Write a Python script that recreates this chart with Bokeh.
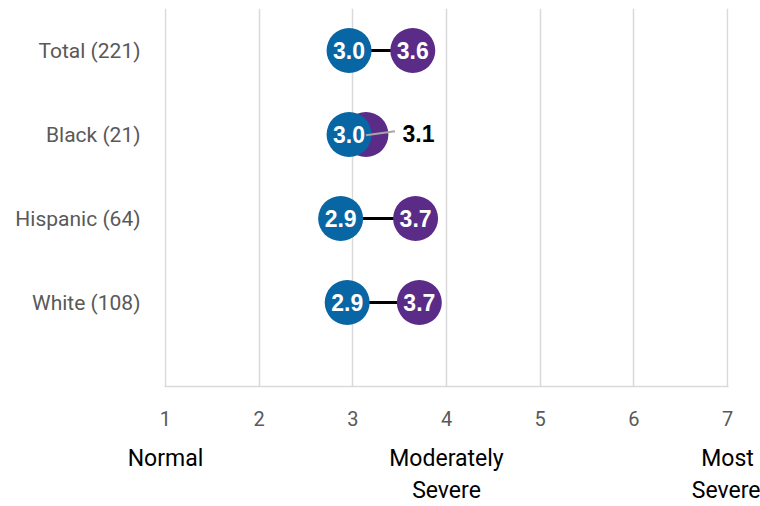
from bokeh.plotting import figure
from bokeh.models import ColumnDataSource, FixedTicker, Range1d, LinearAxis
from bokeh.core.properties import value
from bokeh.embed import file_html
from bokeh.resources import INLINE

# Mean severity scores (1 = Normal ... 7 = Most Severe), before and after
groups = ["Total (221)", "Black (21)", "Hispanic (64)", "White (108)"]
before = [2.96, 2.96, 2.87, 2.94]
after = [3.64, 3.14, 3.67, 3.71]

scale_ticks = [1, 2, 3, 4, 5, 6, 7]
anchor_values = [1, 4, 7]
anchor_line1 = ["Normal", "Moderately", "Most"]
anchor_line2 = ["", "Severe", "Severe"]

BLUE = "#0866A4"
PURPLE = "#5B2C87"
GRID = "#D9D9D9"
TEXT_GRAY = "#595959"
LABEL_FONT = "Roboto"
DOT_FONT = "Liberation Sans"
DOT_SIZE = 45

rows = list(range(len(groups), 0, -1))  # first group at the top

p = figure(width=760, height=506, output_backend="svg", toolbar_location=None,
           x_range=Range1d(0.99, 7.01), y_range=Range1d(0, len(groups) + 0.5),
           min_border_left=164, min_border_right=32,
           min_border_top=8, min_border_bottom=120)
p.outline_line_color = None
p.background_fill_color = "white"
p.border_fill_color = "white"

# x axis: scale points 1..7
p.xaxis.ticker = FixedTicker(ticks=scale_ticks)
p.xaxis.axis_line_color = GRID
p.xaxis.axis_line_width = 1.5
p.xaxis.major_tick_line_color = None
p.xaxis.minor_tick_line_color = None
p.xaxis.major_tick_out = 0
p.xaxis.major_label_standoff = 24
p.xaxis.major_label_text_font = LABEL_FONT
p.xaxis.major_label_text_font_size = "20px"
p.xaxis.major_label_text_color = TEXT_GRAY

# descriptive anchors under the scale, one axis per text line
for labels, standoff in ((anchor_line1, 16), (anchor_line2, 2)):
    ax = LinearAxis(ticker=FixedTicker(ticks=anchor_values),
                    major_label_overrides={v: t for v, t in zip(anchor_values, labels)},
                    axis_line_color=None, major_tick_line_color=None,
                    minor_tick_line_color=None, major_tick_out=0,
                    major_label_standoff=standoff,
                    major_label_text_font=LABEL_FONT,
                    major_label_text_font_size="23px",
                    major_label_text_color="black")
    p.add_layout(ax, "below")

# y axis: group names
p.yaxis.ticker = FixedTicker(ticks=rows)
p.yaxis.major_label_overrides = {r: g for r, g in zip(rows, groups)}
p.yaxis.axis_line_color = None
p.yaxis.major_tick_line_color = None
p.yaxis.minor_tick_line_color = None
p.yaxis.major_tick_out = 0
p.yaxis.major_label_standoff = 24
p.yaxis.major_label_text_font = LABEL_FONT
p.yaxis.major_label_text_font_size = "21px"
p.yaxis.major_label_text_color = TEXT_GRAY

p.xgrid.ticker = FixedTicker(ticks=scale_ticks)
p.xgrid.grid_line_color = GRID
p.xgrid.grid_line_width = 1.5
p.ygrid.grid_line_color = None

# labels that fit inside their dot vs. ones pushed outside
overlap = [a - b < 0.45 for a, b in zip(after, before)]
fmt = lambda v: f"{v:.1f}"

src = ColumnDataSource(dict(
    y=rows, before=before, after=after,
    before_txt=[fmt(v) for v in before],
    after_txt=[("" if o else fmt(v)) for v, o in zip(after, overlap)],
))

p.segment(x0="before", y0="y", x1="after", y1="y", source=src,
          line_color="black", line_width=3)
p.scatter(x="after", y="y", source=src, size=DOT_SIZE,
          fill_color=PURPLE, line_color=None)
p.scatter(x="before", y="y", source=src, size=DOT_SIZE,
          fill_color=BLUE, line_color=None)

for col in ("before", "after"):
    p.text(x=col, y="y", text=f"{col}_txt", source=src,
           text_align="center", text_baseline="middle",
           text_color="white", text_font=value(DOT_FONT),
           text_font_style="bold", text_font_size="23px")

# outside labels with a short leader line
out = [(r, a) for r, a, o in zip(rows, after, overlap) if o]
callout = ColumnDataSource(dict(
    x0=[a for r, a in out], y0=[r - 0.01 for r, a in out],
    x1=[a + 0.31 for r, a in out], y1=[r + 0.04 for r, a in out],
    tx=[a + 0.39 for r, a in out], ty=[r + 0.01 for r, a in out],
    txt=[fmt(a) for r, a in out],
))
p.segment(x0="x0", y0="y0", x1="x1", y1="y1", source=callout,
          line_color="#A6A6A6", line_width=2)
p.text(x="tx", y="ty", text="txt", source=callout,
       text_align="left", text_baseline="middle",
       text_color="black", text_font=value(DOT_FONT),
       text_font_style="bold", text_font_size="23px")

open("out.html", "w").write(file_html(p, INLINE))
